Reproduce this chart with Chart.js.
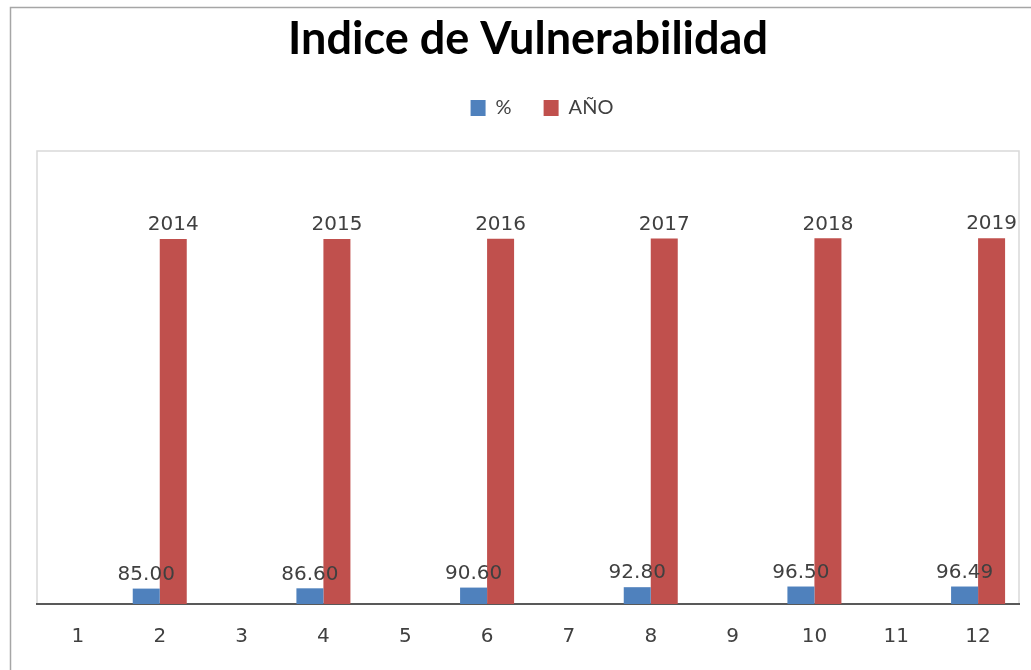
<!DOCTYPE html>
<html>
<head>
<meta charset="utf-8">
<script src="https://cdn.jsdelivr.net/npm/chart.js@4/dist/chart.umd.min.js"></script>
<style>
  html, body { margin: 0; padding: 0; background: #fff; }
  #wrap { position: relative; width: 1031px; height: 670px; }
</style>
</head>
<body>
<div id="wrap"><canvas id="chart" width="1031" height="670"></canvas></div>
<script>
const categories = ['1', '2', '3', '4', '5', '6', '7', '8', '9', '10', '11', '12'];
const pctValues = [null, 85.00, null, 86.60, null, 90.60, null, 92.80, null, 96.50, null, 96.49];
const yearValues = [null, 2014, null, 2015, null, 2016, null, 2017, null, 2018, null, 2019];
const pctLabels = ['', '85.00', '', '86.60', '', '90.60', '', '92.80', '', '96.50', '', '96.49'];
const yearLabels = ['', '2014', '', '2015', '', '2016', '', '2017', '', '2018', '', '2019'];

// outer frame + plot area box
const frame = {
  id: 'frame',
  beforeInit(chart) {
    // extra room under the legend
    const fit = chart.legend.fit;
    chart.legend.fit = function () {
      fit.call(this);
      this.height += 23;
    };
  },
  afterLayout(chart) {
    // legend sits a bit right of centre in the original
    chart.legend.left += 14;
    chart.legend.right += 14;
  },
  beforeDraw(chart) {
    const c = chart.ctx;
    const a = chart.chartArea;
    c.save();
    c.strokeStyle = '#a6a6a6';
    c.lineWidth = 1.5;
    c.beginPath();
    c.moveTo(10.5, 680);
    c.lineTo(10.5, 7.5);
    c.lineTo(1040, 7.5);
    c.stroke();
    c.strokeStyle = '#d9d9d9';
    c.lineWidth = 1.5;
    c.strokeRect(a.left, a.top, a.right - a.left, a.bottom - a.top);
    c.restore();
  }
};

// value labels above bars
const barLabels = {
  id: 'barLabels',
  afterDatasetsDraw(chart) {
    const c = chart.ctx;
    const texts = [pctLabels, yearLabels];
    c.save();
    c.font = '20px "DejaVu Sans"';
    c.fillStyle = '#404040';
    c.textAlign = 'center';
    c.textBaseline = 'bottom';
    chart.data.datasets.forEach((ds, i) => {
      chart.getDatasetMeta(i).data.forEach((bar, j) => {
        if (ds.data[j] == null) return;
        c.fillText(texts[i][j], bar.x, bar.y - 4);
      });
    });
    c.restore();
  }
};

new Chart(document.getElementById('chart'), {
  type: 'bar',
  data: {
    labels: categories,
    datasets: [
      { label: '%', data: pctValues, backgroundColor: '#4F81BD' },
      { label: 'AÑO', data: yearValues, backgroundColor: '#C0504D' }
    ]
  },
  options: {
    responsive: false,
    animation: false,
    layout: { padding: { left: 37, right: 12, top: 10, bottom: 0 } },
    datasets: { bar: { categoryPercentage: 0.66, barPercentage: 1 } },
    scales: {
      x: {
        grid: { display: false, drawTicks: false },
        border: { display: true, color: '#595959', width: 2 },
        ticks: { color: '#404040', font: { family: 'DejaVu Sans', size: 20 }, padding: 21, maxRotation: 0 }
      },
      y: {
        display: false,
        min: 0,
        max: 2500
      }
    },
    plugins: {
      title: {
        display: true,
        text: 'Indice de Vulnerabilidad',
        color: '#000',
        font: { family: 'Lato', size: 45, weight: 'bold' },
        padding: { top: 2, bottom: 0 }
      },
      legend: {
        position: 'top',
        labels: {
          color: '#404040',
          font: { family: 'Lato', size: 20 },
          boxWidth: 15,
          boxHeight: 16,
          padding: 32
        }
      },
      tooltip: { enabled: false }
    }
  },
  plugins: [frame, barLabels]
});
</script>
</body>
</html>
